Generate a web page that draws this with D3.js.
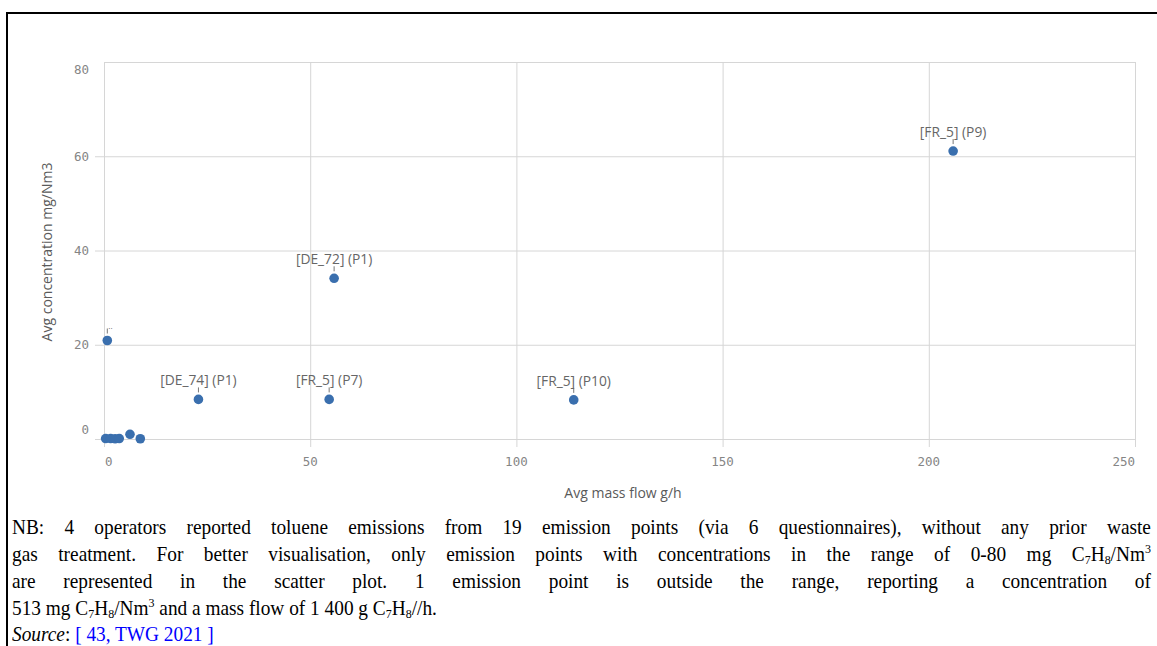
<!DOCTYPE html>
<html>
<head>
<meta charset="utf-8">
<script src="https://cdn.jsdelivr.net/npm/d3@7"></script>
<style>
  html, body { margin: 0; padding: 0; background: #fff; }
  body { width: 1157px; height: 646px; position: relative; overflow: hidden; }
  #frame { position: absolute; left: 6px; top: 12px; width: 1200px; height: 700px;
           border-top: 2px solid #000; border-left: 2px solid #000; box-sizing: border-box; }
  svg { position: absolute; left: 0; top: 0; }
  .note { position: absolute; left: 12px; width: 1238px; font-family: "Liberation Serif", "Times New Roman", serif;
          font-size: 21px; line-height: 26px; color: #000; white-space: nowrap;
          transform: scaleX(0.92); transform-origin: 0 0; }
  .just { text-align: justify; text-align-last: justify; }
  sub, sup { font-size: 13px; line-height: 0; }
  sub { vertical-align: -3px; }
  sup { vertical-align: 8px; }
  .src { color: #0000ff; }
</style>
</head>
<body>
<div id="frame"></div>
<svg id="chart" width="1157" height="646"></svg>
<div id="notes"></div>
<script>
// ---- data ----
const massFlow      = [205.9, 55.8, 22.9, 54.6, 113.9, 0.8, 0.4, 1.6, 2.7, 3.7, 6.3, 8.8];
const concentration = [61.1, 34.1, 8.4, 8.4, 8.3, 20.9, 0.1, 0.1, 0.05, 0.1, 1.0, 0.05];
const pointLabels   = ["[FR_5] (P9)", "[DE_72] (P1)", "[DE_74] (P1)", "[FR_5] (P7)", "[FR_5] (P10)", "..", "", "", "", "", "", ""];
const xTicks = [0, 50, 100, 150, 200, 250];
const yTicks = [0, 20, 40, 60, 80];
const xTitle = "Avg mass flow g/h";
const yTitle = "Avg concentration mg/Nm3";

const svg = d3.select("#chart");
const x = d3.scaleLinear().domain([0, 250]).range([104, 1135]);
const y = d3.scaleLinear().domain([0, 80]).range([439, 62]);
const grid = "#d6d6d6";
const tickFont = "'DejaVu Sans Mono', monospace";

// horizontal grid lines + y ticks
const yAxis = d3.axisLeft(y).tickValues(yTicks).tickSize(0).tickFormat(d => d);
const gy = svg.append("g").attr("transform", `translate(${x(0)},0)`).call(yAxis);
gy.select(".domain").remove();
gy.selectAll(".tick text").remove();
svg.append("g").selectAll("line").data(yTicks).join("line")
  .attr("x1", d => d === 80 ? x(0) : x(0) - 9).attr("x2", x(250))
  .attr("y1", d => y(d) + 0.5).attr("y2", d => y(d) + 0.5)
  .attr("stroke", grid).attr("stroke-width", 1);
svg.append("g").selectAll("text").data(yTicks).join("text")
  .attr("x", 89)
  .attr("y", d => y(d) + (d === 80 ? 8 : d === 0 ? -9 : 0))
  .attr("dy", "0.35em").attr("text-anchor", "end")
  .attr("font-family", tickFont).attr("font-size", 12.5).attr("fill", "#858585")
  .text(d => d);

// vertical grid lines + x ticks
const xAxis = d3.axisBottom(x).tickValues(xTicks).tickSize(0);
const gx = svg.append("g").attr("transform", `translate(0,${y(0)})`).call(xAxis);
gx.select(".domain").remove();
gx.selectAll(".tick text").remove();
svg.append("g").selectAll("line").data(xTicks).join("line")
  .attr("x1", d => x(d) + 0.5).attr("x2", d => x(d) + 0.5)
  .attr("y1", y(80)).attr("y2", y(0) + 8)
  .attr("stroke", grid).attr("stroke-width", 1);
svg.append("g").selectAll("text").data(xTicks).join("text")
  .attr("x", d => d === 0 ? x(d) + 1 : x(d))
  .attr("y", 466)
  .attr("text-anchor", d => d === 0 ? "start" : d === 250 ? "end" : "middle")
  .attr("font-family", tickFont).attr("font-size", 12.5).attr("fill", "#858585")
  .text(d => d);

// axis titles
svg.append("text").attr("x", 623).attr("y", 498).attr("text-anchor", "middle")
  .attr("font-family", "'Open Sans', sans-serif").attr("font-size", 14).attr("fill", "#5a5a5a")
  .text(xTitle);
svg.append("text").attr("transform", "translate(52,252) rotate(-90)").attr("text-anchor", "middle")
  .attr("font-family", "'Open Sans', sans-serif").attr("font-size", 14).attr("fill", "#5a5a5a")
  .text(yTitle);

// points
const pts = massFlow.map((m, i) => ({ m, c: concentration[i], label: pointLabels[i] }));
svg.append("g").selectAll("circle").data(pts).join("circle")
  .attr("cx", d => x(d.m)).attr("cy", d => y(d.c)).attr("r", 4.8)
  .attr("fill", "#3a6fae");

// labels with leader marks
const lab = svg.append("g").selectAll("g").data(pts.filter(d => d.label)).join("g");
lab.append("line")
  .attr("x1", d => x(d.m)).attr("x2", d => x(d.m))
  .attr("y1", d => y(d.c) - 12).attr("y2", d => y(d.c) - 7)
  .attr("stroke", "#777").attr("stroke-width", 1);
lab.append("text")
  .attr("x", d => d.label === ".." ? x(d.m) + 1 : x(d.m))
  .attr("y", d => d.label === ".." ? y(d.c) - 12 : y(d.c) - 14)
  .attr("text-anchor", d => d.label === ".." ? "start" : "middle")
  .attr("font-family", "'Open Sans', sans-serif")
  .attr("font-size", d => d.label === ".." ? 8 : 13.8)
  .attr("fill", "#666")
  .text(d => d.label);

// notes
const noteLines = [
  { cls: "just", top: 514, html: "NB: 4 operators reported toluene emissions from 19 emission points (via 6 questionnaires), without any prior waste" },
  { cls: "just", top: 541, html: "gas treatment. For better visualisation, only emission points with concentrations in the range of 0-80 mg C<sub>7</sub>H<sub>8</sub>/Nm<sup>3</sup>" },
  { cls: "just", top: 568, html: "are represented in the scatter plot. 1 emission point is outside the range, reporting a concentration of" },
  { cls: "", top: 595, html: "513 mg C<sub>7</sub>H<sub>8</sub>/Nm<sup>3</sup> and a mass flow of 1 400 g C<sub>7</sub>H<sub>8</sub>//h." },
  { cls: "", top: 621, html: "<i>Source</i>: <span class='src'>[ 43, TWG 2021 ]</span>" }
];
d3.select("#notes").selectAll("div").data(noteLines).join("div")
  .attr("class", d => "note " + d.cls)
  .style("top", d => d.top + "px")
  .html(d => d.html);
</script>
</body>
</html>
